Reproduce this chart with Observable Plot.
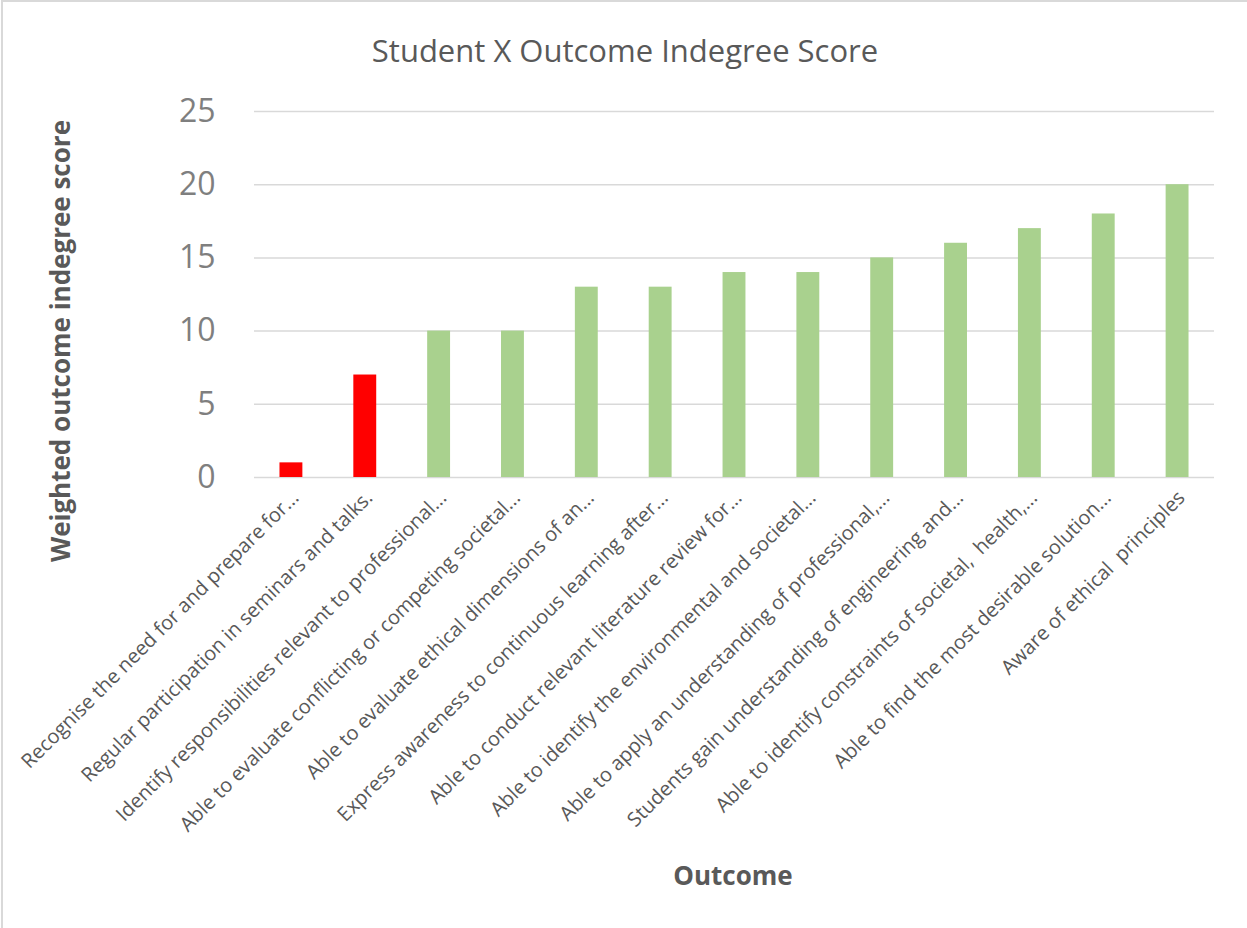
<!DOCTYPE html>
<html>
<head>
<meta charset="utf-8">
<script src="https://cdn.jsdelivr.net/npm/d3@7"></script>
<script src="https://cdn.jsdelivr.net/npm/@observablehq/plot@0.6"></script>
<style>
  html, body { margin: 0; padding: 0; background: #fff; }
  #wrap { position: relative; width: 1247px; height: 928px; overflow: hidden; font-family: "Open Sans", sans-serif; }
  #frame { position: absolute; left: 1px; top: 0px; width: 1260px; height: 940px; border-left: 2px solid #d9d9d9; border-top: 2px solid #d9d9d9; box-sizing: border-box; pointer-events: none; }
  #chart { position: absolute; left: 0; top: 0; }
  .title { position: absolute; left: 625px; top: 50px; transform: translate(-50%, -50%); font-size: 31px; color: #595959; white-space: nowrap; }
  .ytitle { position: absolute; left: 60px; top: 341px; transform: translate(-50%, -50%) rotate(-90deg); font-size: 26px; font-weight: 700; color: #595959; white-space: nowrap; }
  .xtitle { position: absolute; left: 733px; top: 875px; transform: translate(-50%, -50%); font-size: 26px; font-weight: 700; color: #595959; white-space: nowrap; }
</style>
</head>
<body>
<div id="wrap">
  <div id="chart"></div>
  <div class="title">Student X Outcome Indegree Score</div>
  <div class="ytitle">Weighted outcome indegree score</div>
  <div class="xtitle">Outcome</div>
  <div id="frame"></div>
</div>
<script>
const outcomes = [
  "Recognise the need for and prepare for...",
  "Regular participation in seminars and talks.",
  "Identify responsibilities relevant to professional...",
  "Able to evaluate conflicting or competing societal...",
  "Able to evaluate ethical dimensions of an...",
  "Express awareness to continuous learning after...",
  "Able to conduct relevant literature review for...",
  "Able to identify the environmental and societal...",
  "Able to apply an understanding of professional,...",
  "Students gain understanding of engineering and...",
  "Able to identify constraints of societal,  health,...",
  "Able to find the most desirable solution...",
  "Aware of ethical  principles"
];
const scores = [1, 7, 10, 10, 13, 13, 14, 14, 15, 16, 17, 18, 20];
const status = ["low", "low", "ok", "ok", "ok", "ok", "ok", "ok", "ok", "ok", "ok", "ok", "ok"];
const yTicks = [0, 5, 10, 15, 20, 25];

const data = outcomes.map((o, i) => ({outcome: o, score: scores[i], status: status[i]}));

const chart = Plot.plot({
  width: 1247,
  height: 928,
  marginLeft: 254,
  marginRight: 33,
  marginTop: 111,
  marginBottom: 451,
  style: {fontFamily: "'Open Sans', sans-serif", background: "transparent"},
  x: {domain: outcomes, paddingInner: 0.69, paddingOuter: 0.345, round: false, label: null},
  y: {domain: [0, 25], label: null},
  color: {domain: ["low", "ok"], range: ["#ff0000", "#a9d18e"]},
  marks: [
    Plot.gridY(yTicks, {stroke: "#d9d9d9", strokeOpacity: 1, strokeWidth: 1.5}),
    Plot.barY(data, {x: "outcome", y: "score", fill: "status"}),
    Plot.axisY(yTicks, {tickSize: 0, tickPadding: 39, fontSize: 32, color: "#7f7f7f", label: null}),
    Plot.axisX({tickSize: 0, tickRotate: -45, tickPadding: 6, dx: 4, dy: 11, fontSize: 20, color: "#595959", label: null})
  ]
});
document.getElementById("chart").appendChild(chart);
</script>
</body>
</html>
